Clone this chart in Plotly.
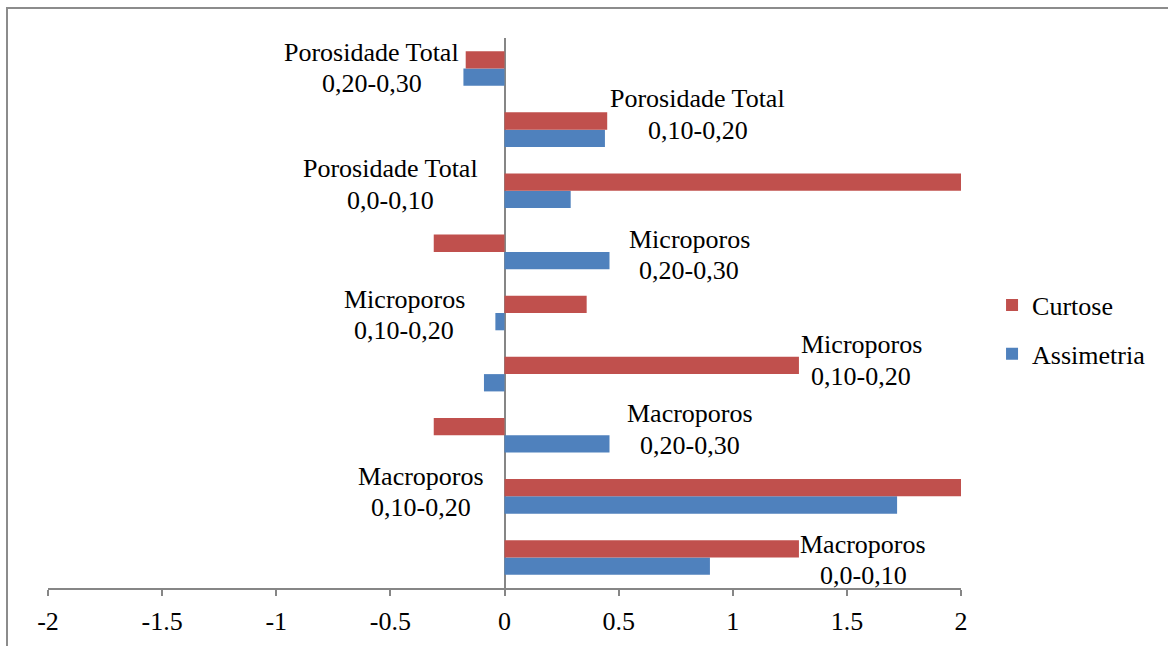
import plotly.graph_objects as go

# Categories, bottom to top
categories = [
    "Macroporos 0,0-0,10",
    "Macroporos 0,10-0,20",
    "Macroporos 0,20-0,30",
    "Microporos 0,0-0,10",
    "Microporos 0,10-0,20",
    "Microporos 0,20-0,30",
    "Porosidade Total 0,0-0,10",
    "Porosidade Total 0,10-0,20",
    "Porosidade Total 0,20-0,30",
]

# Series values
curtose = [1.29, 2.0, -0.31, 1.29, 0.36, -0.31, 2.0, 0.45, -0.17]
assimetria = [0.90, 1.72, 0.46, -0.09, -0.04, 0.46, 0.29, 0.44, -0.18]

# Text of the category labels as written on the chart (two lines each)
label_top = [
    "Macroporos", "Macroporos", "Macroporos",
    "Microporos", "Microporos", "Microporos",
    "Porosidade Total", "Porosidade Total", "Porosidade Total",
]
label_bottom = [
    "0,0-0,10", "0,10-0,20", "0,20-0,30",
    "0,10-0,20", "0,10-0,20", "0,20-0,30",
    "0,0-0,10", "0,10-0,20", "0,20-0,30",
]

# X axis ticks
tick_vals = [-2, -1.5, -1, -0.5, 0, 0.5, 1, 1.5, 2]
tick_text = ["-2", "-1.5", "-1", "-0.5", "0", "0.5", "1", "1.5", "2"]

FONT = "Liberation Serif, Times New Roman, serif"
RED = "#C0504D"
BLUE = "#4F81BD"
GRAY = "#868686"

# Label block placement (x centre in data units, y offset from category index)
label_pos = [
    (1.571, -0.04),
    (-0.365, 0.07),
    (0.812, 0.09),
    (1.562, 0.22),
    (-0.44, -0.03),
    (0.809, -0.05),
    (-0.50, 0.10),
    (0.846, 0.25),
    (-0.582, 0.01),
]
LINE_HALF = 0.258  # half the spacing between the two label lines, in category units

fig = go.Figure()
fig.add_trace(go.Bar(
    y=categories, x=assimetria, orientation="h", name="Assimetria",
    legendgroup="a", legendrank=2,
    marker=dict(color=BLUE, line=dict(width=0)),
))
fig.add_trace(go.Bar(
    y=categories, x=curtose, orientation="h", name="Curtose",
    legendgroup="c", legendrank=1,
    marker=dict(color=RED, line=dict(width=0)),
))

annotations = []
for i in range(len(categories)):
    lx, dy = label_pos[i]
    for txt, off in ((label_top[i], LINE_HALF), (label_bottom[i], -LINE_HALF)):
        annotations.append(dict(
            x=lx, y=i + dy + off, xref="x", yref="y", text=txt, showarrow=False,
            xanchor="center", yanchor="middle", align="center",
            font=dict(family=FONT, size=26, color="black"),
        ))

fig.update_layout(
    width=1168, height=646,
    margin=dict(l=48, r=207, t=38, b=58),
    paper_bgcolor="white", plot_bgcolor="white",
    barmode="group", bargap=0.434, bargroupgap=0,
    font=dict(family=FONT, size=26, color="black"),
    showlegend=True,
    legend=dict(
        x=1.034, y=0.470, xanchor="left", yanchor="middle",
        traceorder="grouped", tracegroupgap=12,
        font=dict(family=FONT, size=26, color="black"),
        bgcolor="rgba(0,0,0,0)",
    ),
    annotations=annotations,
    shapes=[dict(
        type="rect", xref="paper", yref="paper",
        x0=-0.0449, y0=-1.0, x1=2.0, y1=1.0545,
        line=dict(color="#8c8c8c", width=2), fillcolor="rgba(0,0,0,0)",
        layer="below",
    )],
)

fig.update_xaxes(
    range=[-2, 2], tickvals=tick_vals, ticktext=tick_text,
    showgrid=False, showline=True, linecolor=GRAY, linewidth=2,
    ticks="outside", ticklen=6, tickwidth=2, tickcolor=GRAY,
    zeroline=True, zerolinecolor=GRAY, zerolinewidth=2,
    tickfont=dict(family=FONT, size=26, color="black"),
    ticklabelstandoff=3, automargin=False,
)
fig.update_yaxes(
    type="category", categoryorder="array", categoryarray=categories,
    range=[-0.5, 8.5], showticklabels=False, showgrid=False,
    showline=False, ticks="", zeroline=False, automargin=False,
)

fig.write_html("out.html")
